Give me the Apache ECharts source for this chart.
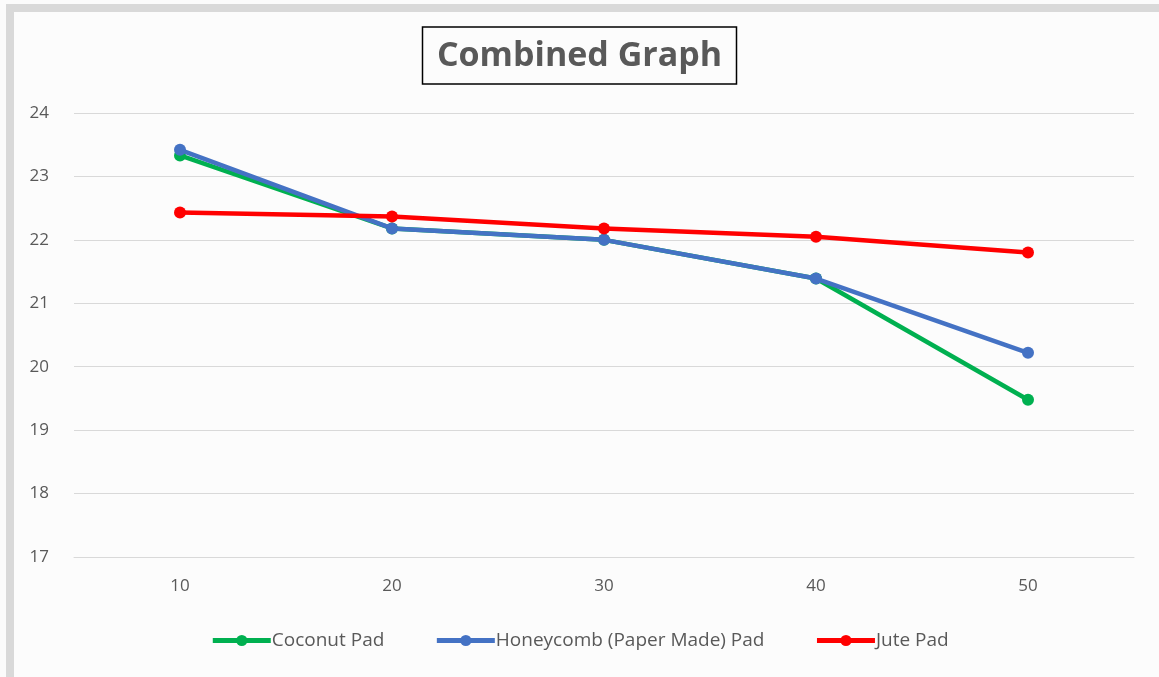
<!DOCTYPE html>
<html>
<head>
<meta charset="utf-8">
<script src="https://cdn.jsdelivr.net/npm/echarts@6/dist/echarts.min.js"></script>
<style>
html,body{margin:0;padding:0;background:#fbfbfb;}
#frame{position:absolute;left:6px;top:4px;width:1153px;height:673px;border-left:8px solid #d9d9d9;border-top:8px solid #d9d9d9;box-sizing:border-box;background:#fcfcfc;}
#chart{position:absolute;left:0;top:0;width:1159px;height:677px;}
</style>
</head>
<body>
<div id="frame"></div>
<div id="chart"></div>
<script>
const categories = ['10', '20', '30', '40', '50'];
const coconutPad = [23.33, 22.18, 22.0, 21.39, 19.48];
const honeycombPad = [23.42, 22.18, 22.0, 21.39, 20.22];
const jutePad = [22.43, 22.37, 22.18, 22.05, 21.80];
const seriesNames = ['Coconut Pad', 'Honeycomb (Paper Made) Pad', 'Jute Pad'];
const seriesColors = ['#00B050', '#4472C4', '#FF0000'];
const seriesData = [coconutPad, honeycombPad, jutePad];

const chart = echarts.init(document.getElementById('chart'), null, {renderer: 'canvas'});
const font = '"Open Sans", "Noto Sans", sans-serif';
chart.setOption({
  backgroundColor: 'transparent',
  animation: false,
  title: {
    text: 'Combined Graph',
    left: 'center',
    top: 27,
    padding: [12, 15, 11, 15],
    borderColor: '#000',
    borderWidth: 1.5,
    textStyle: {fontFamily: font, fontSize: 34, fontWeight: 'bold', color: '#595959'}
  },
  grid: {left: 74, right: 25, top: 113, bottom: 120, containLabel: false},
  legend: {
    bottom: 22,
    left: 'center',
    itemWidth: 58,
    itemHeight: 14,
    itemGap: 50,
    lineStyle: {width: 5},
    textStyle: {fontFamily: font, fontSize: 19, color: '#595959', padding: [0, 0, 0, -4]},
    data: seriesNames
  },
  xAxis: {
    type: 'category',
    data: categories,
    boundaryGap: true,
    axisTick: {show: false},
    axisLine: {lineStyle: {color: '#d9d9d9', width: 1}},
    axisLabel: {margin: 21, fontFamily: font, fontSize: 17, color: '#595959'}
  },
  yAxis: {
    type: 'value',
    min: 17, max: 24, interval: 1,
    axisLine: {show: false},
    axisTick: {show: false},
    splitLine: {lineStyle: {color: '#d9d9d9', width: 1}},
    axisLabel: {margin: 25, fontFamily: font, fontSize: 17, color: '#595959'}
  },
  series: seriesNames.map((name, i) => ({
    name: name,
    type: 'line',
    data: seriesData[i],
    symbol: 'circle',
    symbolSize: 12,
    color: seriesColors[i],
    lineStyle: {width: 4.5, color: seriesColors[i]},
    itemStyle: {color: seriesColors[i]},
    z: 2 + (i === 1 ? 1 : (i === 2 ? 2 : 0))
  }))
});
</script>
</body>
</html>
